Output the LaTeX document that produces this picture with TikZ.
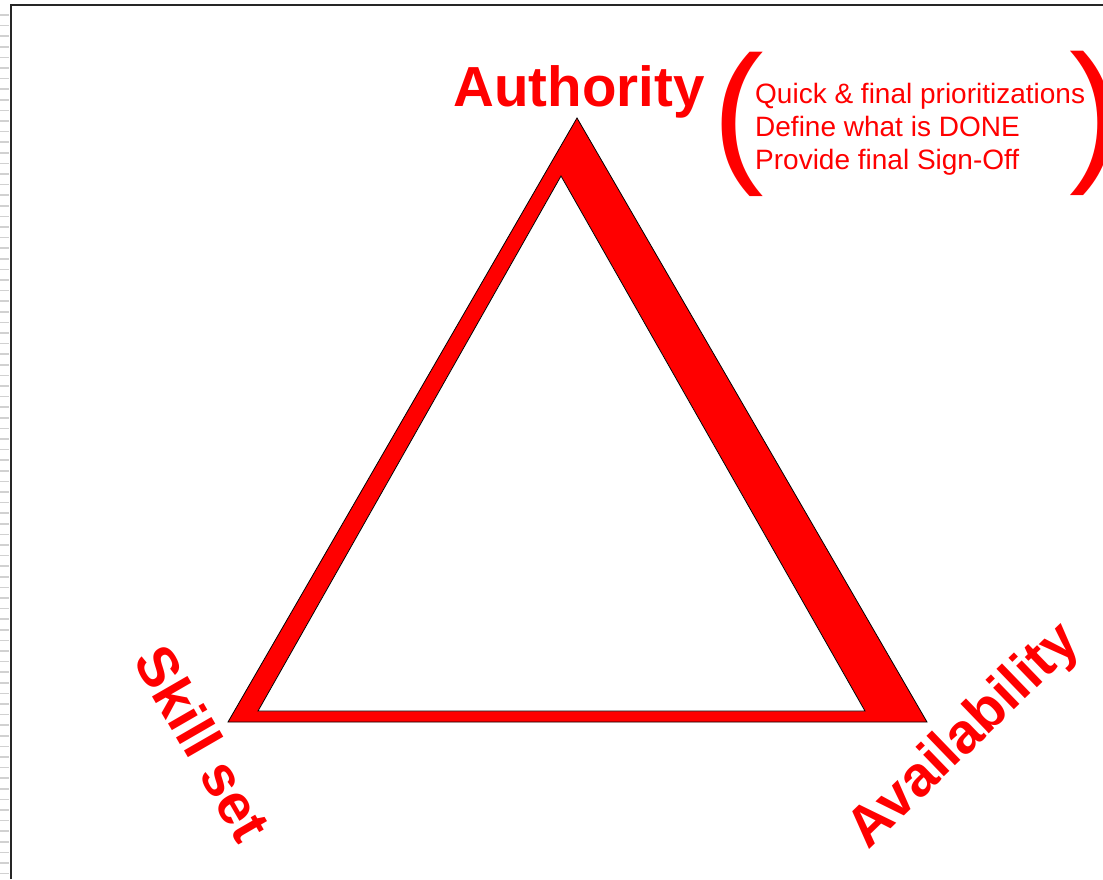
\documentclass[tikz,border=0pt]{standalone}
\usepackage{fontspec}
\setmainfont{Liberation Sans}
\begin{document}
\begin{tikzpicture}[x=1pt,y=-1pt,
  lbl/.style={text=red, font=\fontsize{56.5}{62}\selectfont\bfseries, inner sep=0},
  note/.style={text=red, font=\fontsize{28}{33}\selectfont, inner sep=0, anchor=base west},
  paren/.style={text=red, font=\fontsize{155}{160}\selectfont, inner sep=0, anchor=base west},
  tick/.style={draw=black!18, line width=1.6pt},
  frame/.style={draw=black!85, line width=2.6pt},
  edge/.style={draw=black, line width=0.8pt}]
\useasboundingbox (0,0) rectangle (1103,879);
\fill[white] (0,0) rectangle (1103,879);
% ruler ticks at the left edge
\foreach \y in {15,25.6,...,879} \draw[tick] (0,\y) -- (9,\y);
% page frame
\coordinate (fb) at (11,879);
\coordinate (fc) at (11,5);
\coordinate (fr) at (1103,5);
\draw[frame] (fb) -- (fc) -- (fr);
% triangle
\coordinate (A) at (577,118);
\coordinate (B) at (228,722);
\coordinate (C) at (927,722);
\coordinate (a) at (561,176);
\coordinate (b) at (258,711);
\coordinate (c) at (865,711);
\filldraw[edge, fill=red] (A) -- (B) -- (C) -- cycle;
\filldraw[edge, fill=white] (a) -- (b) -- (c) -- cycle;
% labels
\node[lbl, anchor=base] (auth) at (579,106) {Authority};
\node[lbl, rotate=-60] (skill) at (203,743) {Skill set};
\node[lbl, rotate=44] (avail) at (965,737) {Availability};
% note in parentheses
\node[paren] (lp) at (712,164) {(};
\node[paren] (rp) at (1069,163) {)};
\node[note] (n1) at (755,103) {Quick \& final prioritizations};
\node[note] (n2) at (755,136) {Define what is DONE};
\node[note] (n3) at (755,169) {Provide final Sign-Off};
\end{tikzpicture}
\end{document}
